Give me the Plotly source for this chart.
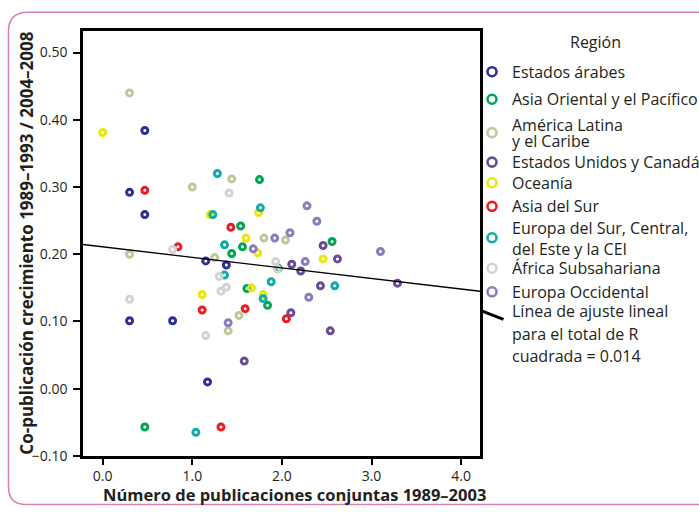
import plotly.graph_objects as go

# ---------------- data ----------------
regions = ["Estados árabes", "Asia Oriental y el Pacífico", "América Latina<br>y el Caribe",
           "Estados Unidos y Canadá", "Oceanía", "Asia del Sur",
           "Europa del Sur, Central,<br>del Este y la CEI", "África Subsahariana", "Europa Occidental"]
colors = ["#2e3192", "#00a651", "#c2c79a", "#6a4b94", "#ece60e", "#ed1c24",
          "#12aca8", "#d3d3d3", "#8a7fbd"]

arabes_x = [0.47, 0.30, 0.47, 1.15, 1.38, 0.30, 0.78, 1.17]
arabes_y = [0.384, 0.292, 0.259, 0.190, 0.184, 0.101, 0.101, 0.010]

asia_or_x = [1.75, 1.54, 1.56, 1.44, 1.61, 1.84, 0.47, 2.56, 1.96]
asia_or_y = [0.311, 0.242, 0.211, 0.201, 0.149, 0.124, -0.057, 0.219, 0.179]

latam_x = [0.30, 1.00, 1.44, 0.30, 1.25, 1.80, 2.04, 1.52, 1.40]
latam_y = [0.440, 0.300, 0.312, 0.200, 0.195, 0.224, 0.221, 0.109, 0.086]

eeuu_x = [2.46, 2.62, 2.11, 2.21, 2.43, 2.10, 2.54, 1.58, 3.29]
eeuu_y = [0.213, 0.193, 0.185, 0.175, 0.153, 0.113, 0.086, 0.041, 0.157]

oceania_x = [0.00, 1.20, 1.74, 1.60, 1.73, 1.11, 1.66, 1.79, 2.46]
oceania_y = [0.381, 0.259, 0.262, 0.224, 0.202, 0.140, 0.150, 0.140, 0.193]

asia_sur_x = [0.47, 1.43, 0.84, 1.11, 1.59, 1.32, 2.05]
asia_sur_y = [0.295, 0.240, 0.211, 0.117, 0.119, -0.057, 0.104]

europa_se_x = [1.28, 1.23, 1.76, 1.36, 1.36, 1.88, 1.79, 1.04, 2.59]
europa_se_y = [0.320, 0.259, 0.269, 0.214, 0.169, 0.159, 0.134, -0.065, 0.153]

africa_x = [1.41, 0.78, 1.93, 1.95, 1.30, 1.38, 1.32, 0.30, 1.15]
africa_y = [0.291, 0.207, 0.189, 0.178, 0.167, 0.151, 0.145, 0.133, 0.079]

europa_occ_x = [2.28, 2.39, 2.09, 1.92, 1.68, 2.26, 2.30, 1.40, 3.10]
europa_occ_y = [0.272, 0.249, 0.232, 0.224, 0.208, 0.189, 0.136, 0.098, 0.204]

series_x = [arabes_x, asia_or_x, latam_x, eeuu_x, oceania_x, asia_sur_x, europa_se_x, africa_x, europa_occ_x]
series_y = [arabes_y, asia_or_y, latam_y, eeuu_y, oceania_y, asia_sur_y, europa_se_y, africa_y, europa_occ_y]

fit_intercept = 0.211
fit_slope = -0.0157
fit_label = ["Línea de ajuste lineal", "para el total de R", "cuadrada = 0.014"]

x_ticks = [0, 1, 2, 3, 4]
y_ticks = [-0.10, 0.00, 0.10, 0.20, 0.30, 0.40, 0.50]
x_title = "Número de publicaciones conjuntas 1989–2003"
y_title = "Co-publicación crecimiento 1989–1993 / 2004–2008"
legend_title = "Región"

# ---------------- figure ----------------
W, H = 699, 515
FONT = "Open Sans"
TXT = "#231f20"
x_range = [-0.22, 4.211]
y_range = [-0.1, 0.5314]

fig = go.Figure()

for name, col, xs, ys in zip(regions, colors, series_x, series_y):
    fig.add_trace(go.Scatter(
        x=xs, y=ys, mode="markers", name=name.replace("<br>", " "),
        marker=dict(symbol="circle-open", size=6, color=col, line=dict(width=3, color=col)),
        showlegend=False, xaxis="x", yaxis="y"))

# fit line
fig.add_trace(go.Scatter(
    x=x_range, y=[fit_intercept + fit_slope * v for v in x_range],
    mode="lines", line=dict(color="black", width=1.3), showlegend=False,
    xaxis="x", yaxis="y"))

# ---- legend (drawn on a pixel overlay axis) ----
leg_marker_x = 492
leg_rows_y = [73, 101, 135, 165, 186, 210, 242, 273, 297]
leg_text_lines = [[73], [101], [127, 143], [165], [186], [210], [232, 253], [273], [297]]
fig.add_trace(go.Scatter(
    x=[leg_marker_x] * len(colors), y=leg_rows_y, mode="markers",
    marker=dict(symbol="circle-open", size=9, color=colors,
                line=dict(width=2.6, color=colors)),
    showlegend=False, xaxis="x2", yaxis="y2", hoverinfo="skip"))
fig.add_trace(go.Scatter(
    x=[481.5, 503.5], y=[316.5, 325], mode="lines",
    line=dict(color="black", width=3), showlegend=False,
    xaxis="x2", yaxis="y2", hoverinfo="skip"))

annotations = []
for name, ys in zip(regions, leg_text_lines):
    for line, yy in zip(name.split("<br>"), ys):
        annotations.append(dict(x=510, y=yy, xref="x2", yref="y2", text=line,
                                showarrow=False, xanchor="left", yanchor="middle",
                                font=dict(family=FONT, size=16, color=TXT)))
for line, yy in zip(fit_label, [317, 340, 362]):
    annotations.append(dict(x=510, y=yy, xref="x2", yref="y2", text=line,
                            showarrow=False, xanchor="left", yanchor="middle",
                            font=dict(family=FONT, size=16, color=TXT)))
annotations.append(dict(x=595, y=43, xref="x2", yref="y2", text=legend_title,
                        showarrow=False, xanchor="center", yanchor="middle",
                        font=dict(family=FONT, size=16, color=TXT)))
annotations.append(dict(x=294, y=503, xref="x2", yref="y2", text="<b>" + x_title + "</b>",
                        showarrow=False, xanchor="center", yanchor="middle",
                        font=dict(family=FONT, size=16.5, color=TXT)))
annotations.append(dict(x=27, y=248, xref="x2", yref="y2", text="<b>" + y_title + "</b>",
                        showarrow=False, xanchor="center", yanchor="middle", textangle=-90,
                        font=dict(family=FONT, size=17, color=TXT)))

# pink rounded frame
frame_path = ("M 720 12.5 L 28 12.5 Q 8.5 12.5 8.5 32 L 8.5 496 "
              "Q 8.5 513.5 26 513.5 L 720 513.5")

fig.update_layout(
    width=W, height=H,
    margin=dict(l=0, r=0, t=0, b=0),
    paper_bgcolor="white", plot_bgcolor="rgba(0,0,0,0)",
    showlegend=False,
    xaxis=dict(domain=[83 / W, 480 / W], range=x_range, tickvals=x_ticks,
               tickformat=".1f", ticks="outside", ticklen=6, tickwidth=2, tickcolor="black",
               showline=True, linecolor="black", linewidth=2.5, mirror=True,
               showgrid=False, zeroline=False, anchor="y",
               tickfont=dict(family=FONT, size=14, color=TXT)),
    yaxis=dict(domain=[1 - 464 / H, 1 - 32 / H], range=y_range, tickvals=y_ticks,
               tickformat=".2f", ticks="outside", ticklen=7, tickwidth=2, tickcolor="black",
               ticklabelstandoff=3,
               showline=True, linecolor="black", linewidth=2.5, mirror=True,
               showgrid=False, zeroline=False, anchor="x",
               tickfont=dict(family=FONT, size=14, color=TXT)),
    xaxis2=dict(domain=[0, 1], range=[0, W], visible=False, anchor="y2", fixedrange=True),
    yaxis2=dict(domain=[0, 1], range=[H, 0], visible=False, anchor="x2", fixedrange=True),
    annotations=annotations,
    shapes=[dict(type="path", path=frame_path, xref="x2", yref="y2",
                 line=dict(color="#d77fb1", width=1.5))],
)

fig.write_html("out.html", config={"displayModeBar": False},
               post_script="document.body.style.margin='0';document.body.style.overflow='hidden';")
